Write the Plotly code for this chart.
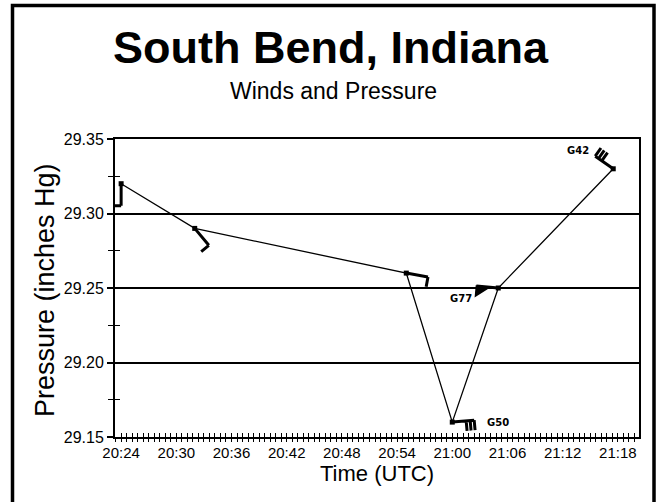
import math
import plotly.graph_objects as go

# ---------------- data ----------------
obs_times = ["2000-01-01 20:24:00", "2000-01-01 20:32:00", "2000-01-01 20:55:00",
             "2000-01-01 21:00:00", "2000-01-01 21:05:00", "2000-01-01 21:17:30"]
pressure_inhg = [29.32, 29.29, 29.26, 29.16, 29.25, 29.33]
wind_dir_deg = [180, 140, 100, 85, 275, 305]
wind_speed_kt = [10, 10, 10, 30, 50, 30]
gust_kt = [None, None, None, 50, 77, 42]

x_tick_labels = ["20:24", "20:30", "20:36", "20:42", "20:48", "20:54",
                 "21:00", "21:06", "21:12", "21:18"]
x_tick_vals = ["2000-01-01 " + t + ":00" for t in x_tick_labels]
y_tick_vals = [29.15, 29.20, 29.25, 29.30, 29.35]
y_tick_text = ["29.15", "29.20", "29.25", "29.30", "29.35"]
y_minor_vals = [29.175, 29.225, 29.275, 29.325]

x_range = ["2000-01-01 20:23:20", "2000-01-01 21:20:18"]
y_range = [29.15, 29.35]

# ---------------- styling / layout ----------------
barb_side = [1, 1, 1, 1, -1, 1]   # which side of the staff the feathers are drawn on
L_PX, R_PX, T_PX, B_PX = 115, 639, 139, 437
W, H = 661, 502
pw, ph = R_PX - L_PX, B_PX - T_PX


def px_x(px):
    return (px - L_PX) / pw


def px_y(py):
    return (B_PX - py) / ph


def barb_paths(direction, speed, side=1, staff=22, blen=10, gap=4):
    """Return (line_path, pennant_paths) in pixel offsets, y up."""
    d = math.radians(direction)
    sx, sy = math.sin(d), math.cos(d)
    qx, qy = sy * side, -sx * side  # perpendicular (clockwise for side=1)
    line = [f"M0,0L{sx*staff:.1f},{sy*staff:.1f}"]
    pennants = []
    pos = staff
    rem = speed
    while rem >= 50:
        a = (sx * pos, sy * pos)
        b = (sx * (pos - 13), sy * (pos - 13))
        c = (sx * pos + qx * blen, sy * pos + qy * blen)
        pennants.append(f"M{a[0]:.1f},{a[1]:.1f}L{c[0]:.1f},{c[1]:.1f}L{b[0]:.1f},{b[1]:.1f}Z")
        rem -= 50
        pos -= 15
    while rem >= 10:
        line.append(f"M{sx*pos:.1f},{sy*pos:.1f}L{sx*pos+qx*blen:.1f},{sy*pos+qy*blen:.1f}")
        rem -= 10
        pos -= gap
    if rem >= 5:
        h = blen / 2
        line.append(f"M{sx*pos:.1f},{sy*pos:.1f}L{sx*pos+qx*h:.1f},{sy*pos+qy*h:.1f}")
    return "".join(line), pennants


fig = go.Figure()

fig.add_trace(go.Scatter(
    x=obs_times, y=pressure_inhg, mode="lines+markers",
    line=dict(color="black", width=1.3),
    marker=dict(symbol="square", size=5, color="black"),
    hoverinfo="x+y", showlegend=False))

# invisible trace for the overlay axes (inside half of the crossing ticks)
fig.add_trace(go.Scatter(x=obs_times, y=pressure_inhg, xaxis="x2", yaxis="y2",
                         mode="markers", marker=dict(opacity=0), showlegend=False,
                         hoverinfo="skip"))

shapes = []
for t, p, dr, sp, sd in zip(obs_times, pressure_inhg, wind_dir_deg, wind_speed_kt, barb_side):
    lp, pens = barb_paths(dr, sp, sd)
    shapes.append(dict(type="path", xref="x", yref="y", xsizemode="pixel", ysizemode="pixel",
                       xanchor=t, yanchor=p, path=lp,
                       line=dict(color="black", width=3)))
    for pp in pens:
        shapes.append(dict(type="path", xref="x", yref="y", xsizemode="pixel", ysizemode="pixel",
                           xanchor=t, yanchor=p, path=pp, fillcolor="black",
                           line=dict(color="black", width=1.5)))

# outer frame
shapes.append(dict(type="rect", xref="paper", yref="paper",
                   x0=px_x(12.5), x1=px_x(654), y0=px_y(505), y1=px_y(5.5),
                   line=dict(color="black", width=3.5), layer="above"))

font_main = "Liberation Sans, Arial"
annotations = [
    dict(text="<b>South Bend, Indiana</b>", xref="paper", yref="paper",
         x=px_x(330.5), y=px_y(47), xanchor="center", yanchor="middle", showarrow=False,
         font=dict(family=font_main, size=45, color="black")),
    dict(text="Winds and Pressure", xref="paper", yref="paper",
         x=px_x(333), y=px_y(91), xanchor="center", yanchor="middle", showarrow=False,
         font=dict(family=font_main, size=23, color="black")),
    dict(text="Pressure (inches Hg)", xref="paper", yref="paper", textangle=-90,
         x=px_x(45), y=px_y(290), xanchor="center", yanchor="middle", showarrow=False,
         font=dict(family=font_main, size=27, color="black")),
    dict(text="Time (UTC)", xref="paper", yref="paper",
         x=px_x(377), y=px_y(473), xanchor="center", yanchor="middle", showarrow=False,
         font=dict(family=font_main, size=22, color="black")),
]

gust_offsets = {3: ("left", 33, 0), 4: ("right", -24, -10), 5: ("right", -22, 18)}
for i, g in enumerate(gust_kt):
    if g is None:
        continue
    xa, xs, ys = gust_offsets[i]
    annotations.append(dict(text=f"<b>G{g}</b>", x=obs_times[i], y=pressure_inhg[i],
                            xref="x", yref="y", showarrow=False, xanchor=xa,
                            yanchor="middle", xshift=xs, yshift=ys,
                            font=dict(family="DejaVu Sans", size=10, color="black")))

fig.update_layout(
    width=W, height=H,
    margin=dict(l=L_PX, r=W - R_PX, t=T_PX, b=H - B_PX, autoexpand=False),
    paper_bgcolor="white", plot_bgcolor="white",
    shapes=shapes, annotations=annotations,
    xaxis=dict(type="date", range=x_range, tickvals=x_tick_vals, ticktext=x_tick_labels,
               ticks="outside", ticklen=3, tickwidth=1.3, tickcolor="black",
               ticklabelstandoff=-2,
               minor=dict(dtick=36000, tick0="2000-01-01 20:24:00", ticks="outside",
                          ticklen=3, tickwidth=1, tickcolor="black", showgrid=False),
               showgrid=False, zeroline=False, showline=True, linecolor="black",
               linewidth=2, mirror=True, fixedrange=True,
               tickfont=dict(family=font_main, size=15, color="black")),
    xaxis2=dict(type="date", range=x_range, overlaying="x", anchor="y2", side="bottom",
                tickvals=x_tick_vals, ticktext=["" for _ in x_tick_labels],
                ticks="inside", ticklen=4, tickwidth=1.3, tickcolor="black",
                minor=dict(dtick=36000, tick0="2000-01-01 20:24:00", ticks="inside",
                           ticklen=4, tickwidth=1, tickcolor="black", showgrid=False),
                showgrid=False, zeroline=False, showline=False, showticklabels=False),
    yaxis=dict(range=y_range, tickvals=y_tick_vals, ticktext=y_tick_text,
               ticks="outside", ticklen=6, tickwidth=1.5, tickcolor="black",
               minor=dict(tickvals=y_minor_vals, ticks="outside", ticklen=5,
                          tickwidth=1.3, tickcolor="black", showgrid=False),
               showgrid=True, gridcolor="black", gridwidth=2,
               zeroline=False, showline=True, linecolor="black", linewidth=2,
               mirror=True, fixedrange=True,
               tickfont=dict(family=font_main, size=16, color="black")),
    yaxis2=dict(range=y_range, overlaying="y", anchor="x2", side="left",
                tickvals=y_minor_vals, ticks="inside", ticklen=5, tickwidth=1.3,
                tickcolor="black", showticklabels=False, showgrid=False,
                zeroline=False, showline=False),
)

fig.write_html("out.html", config={"displayModeBar": False},
               post_script="document.body.style.margin='0px';")
